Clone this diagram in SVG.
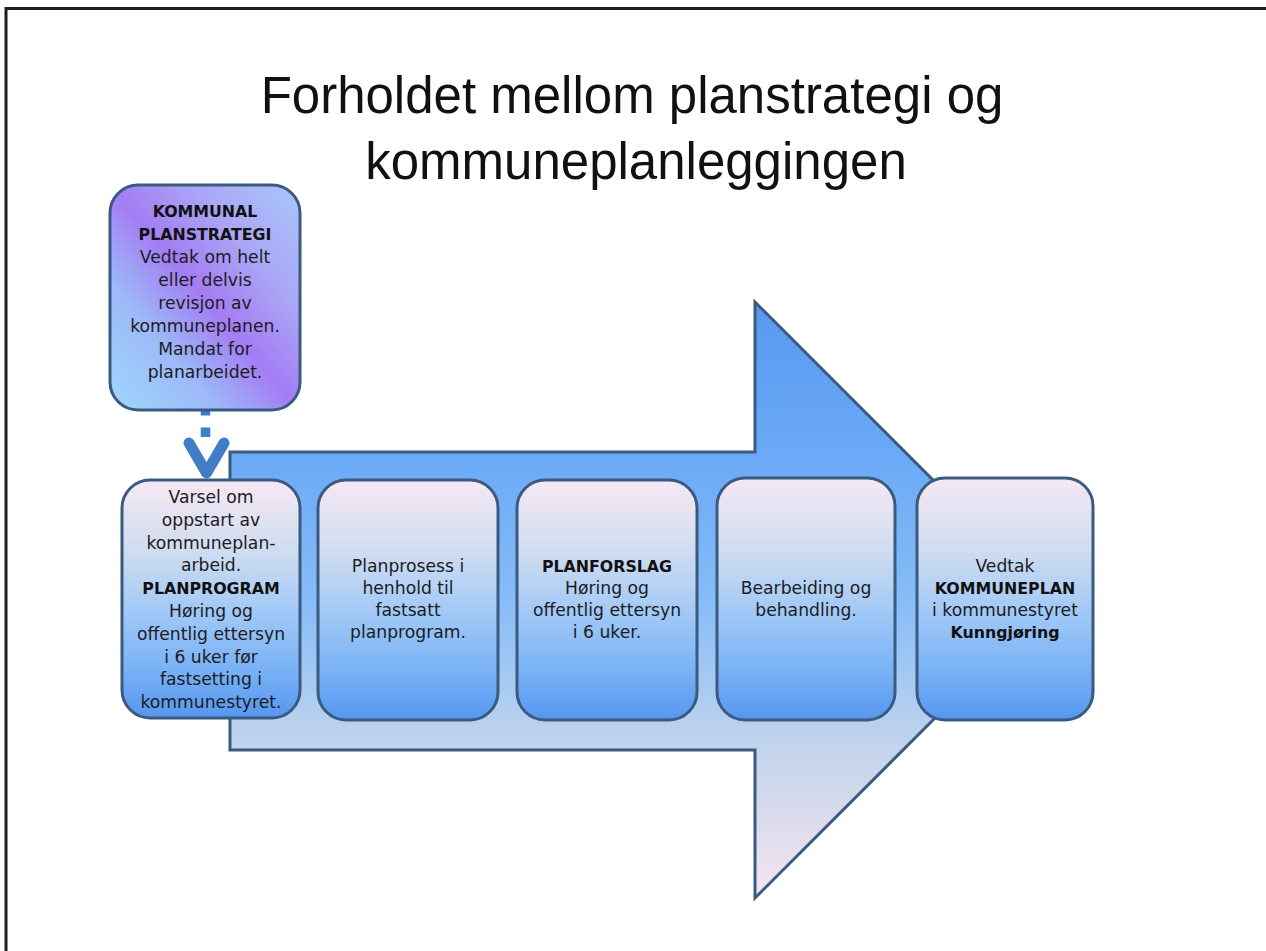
<svg xmlns="http://www.w3.org/2000/svg" width="1266" height="951" viewBox="0 0 1266 951">
<defs>
<linearGradient id="gArrow" x1="0" y1="302" x2="0" y2="898" gradientUnits="userSpaceOnUse">
<stop offset="0" stop-color="#5898ef"/>
<stop offset="0.25" stop-color="#6aa9f6"/>
<stop offset="0.5" stop-color="#86bcf7"/>
<stop offset="0.65" stop-color="#a9cbf1"/>
<stop offset="0.75" stop-color="#c3d4ec"/>
<stop offset="0.86" stop-color="#d9dbec"/>
<stop offset="1" stop-color="#f7e5f0"/>
</linearGradient>
<linearGradient id="gBox" x1="0" y1="0" x2="0" y2="1">
<stop offset="0" stop-color="#f6e8f4"/>
<stop offset="0.3" stop-color="#cfdcf0"/>
<stop offset="0.55" stop-color="#a2c9f6"/>
<stop offset="0.8" stop-color="#78b1f6"/>
<stop offset="1" stop-color="#5696ee"/>
</linearGradient>
<linearGradient id="gStrat" x1="0" y1="1" x2="1" y2="0">
<stop offset="0" stop-color="#9fd6fb"/>
<stop offset="0.28" stop-color="#9cbaf8"/>
<stop offset="0.5" stop-color="#a47cf3"/>
<stop offset="0.72" stop-color="#aaa6f6"/>
<stop offset="1" stop-color="#a9c6f9"/>
</linearGradient>
</defs>
<style>
.frame{fill:none;stroke:#1e1e1e;stroke-width:3}
.box{fill:url(#gBox);stroke:#3b5a80;stroke-width:3}
.strat{fill:url(#gStrat);stroke:#3b5a80;stroke-width:3}
.arrow{fill:url(#gArrow);stroke:#3b5a80;stroke-width:3;stroke-linejoin:miter}
.title{font-family:"Liberation Sans",Arial,sans-serif;font-size:51px;fill:#111;text-anchor:middle}
.t{font-family:"DejaVu Sans","Liberation Sans",sans-serif;font-size:17.2px;fill:#1c1c24;text-anchor:middle}
.b{font-weight:bold;font-size:15.8px;fill:#111}
.dash{fill:none;stroke:#3f7dc6;stroke-width:9.5;stroke-dasharray:9.5 12}
.chev{fill:none;stroke:#3f7dc6;stroke-width:11;stroke-linecap:round;stroke-linejoin:round}
</style>
<rect width="1266" height="951" fill="#ffffff"/>
<path class="frame" d="M6,951 V8.5 H1266"/>
<g id="title">
<text class="title" x="632" y="113">Forholdet mellom planstrategi og</text>
<text class="title" x="636" y="179">kommuneplanleggingen</text>
</g>
<g id="big-arrow">
<polygon class="arrow" points="230,452 755,452 755,302 1053,600 755,898 755,750 230,750"/>
</g>
<g id="connectors">
<path class="dash" d="M205.5,406 V437"/>
<path class="chev" d="M189,443 L206.5,473 L224,443"/>
</g>
<g id="planstrategi">
<rect class="strat" x="110" y="185" width="190" height="225" rx="28"/>
<text class="t b" x="205" y="217">KOMMUNAL</text>
<text class="t b" x="205" y="240">PLANSTRATEGI</text>
<text class="t" x="205" y="263">Vedtak om helt</text>
<text class="t" x="205" y="286">eller delvis</text>
<text class="t" x="205" y="309">revisjon av</text>
<text class="t" x="205" y="332">kommuneplanen.</text>
<text class="t" x="205" y="355">Mandat for</text>
<text class="t" x="205" y="378">planarbeidet.</text>
</g>
<g id="planprogram">
<rect class="box" x="122" y="480" width="178" height="238" rx="28"/>
<text class="t" x="211" y="503">Varsel om</text>
<text class="t" x="211" y="526">oppstart av</text>
<text class="t" x="211" y="549">kommuneplan-</text>
<text class="t" x="211" y="571">arbeid.</text>
<text class="t b" x="211" y="594">PLANPROGRAM</text>
<text class="t" x="211" y="617">Høring og</text>
<text class="t" x="211" y="640">offentlig ettersyn</text>
<text class="t" x="211" y="663">i 6 uker før</text>
<text class="t" x="211" y="685">fastsetting i</text>
<text class="t" x="211" y="708">kommunestyret.</text>
</g>
<g id="planprosess">
<rect class="box" x="318" y="480" width="180" height="240" rx="28"/>
<text class="t" x="408" y="572">Planprosess i</text>
<text class="t" x="408" y="594">henhold til</text>
<text class="t" x="408" y="616">fastsatt</text>
<text class="t" x="408" y="638">planprogram.</text>
</g>
<g id="planforslag">
<rect class="box" x="517" y="480" width="180" height="240" rx="28"/>
<text class="t b" x="607" y="572">PLANFORSLAG</text>
<text class="t" x="607" y="594">Høring og</text>
<text class="t" x="607" y="616">offentlig ettersyn</text>
<text class="t" x="607" y="638">i 6 uker.</text>
</g>
<g id="bearbeiding">
<rect class="box" x="717" y="478" width="178" height="242" rx="28"/>
<text class="t" x="806" y="594">Bearbeiding og</text>
<text class="t" x="806" y="616">behandling.</text>
</g>
<g id="vedtak">
<rect class="box" x="917" y="478" width="176" height="242" rx="28"/>
<text class="t" x="1005" y="572">Vedtak</text>
<text class="t b" x="1005" y="594">KOMMUNEPLAN</text>
<text class="t" x="1005" y="616">i kommunestyret</text>
<text class="t b" x="1005" y="638">Kunngjøring</text>
</g>
</svg>
